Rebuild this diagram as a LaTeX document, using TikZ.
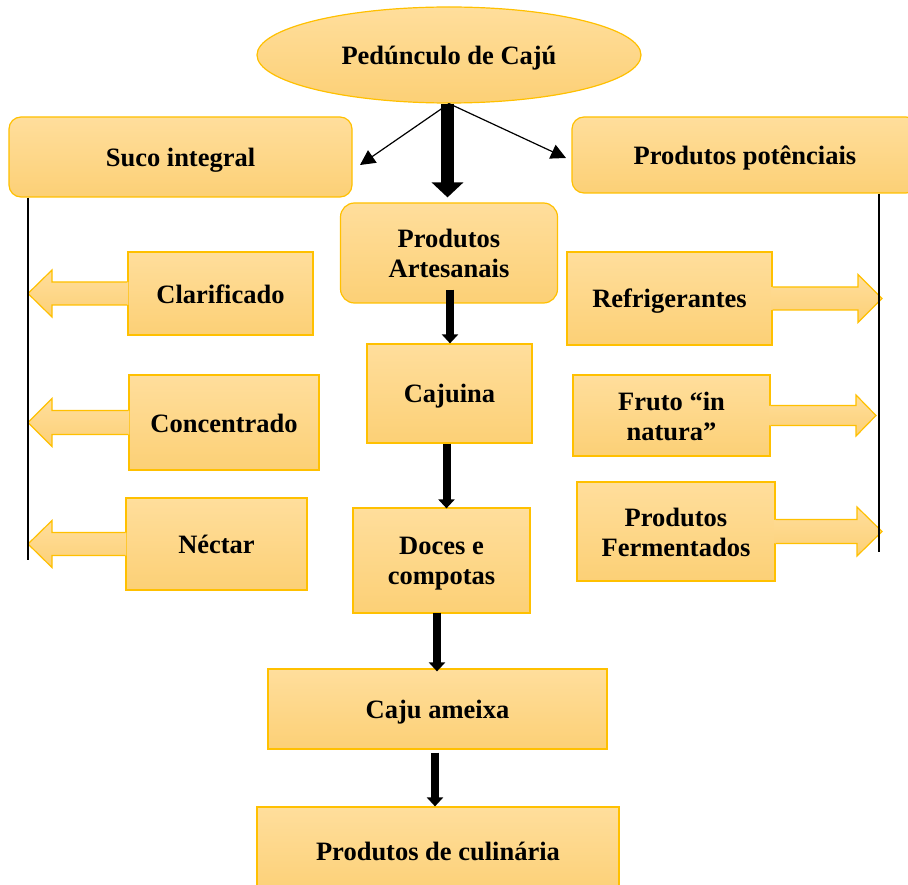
\documentclass[tikz,border=0pt]{standalone}
\usepackage{fontspec}
\setmainfont{Liberation Serif}
\usetikzlibrary{arrows.meta,calc,shapes.geometric}
\definecolor{boxtop}{RGB}{255,222,156}
\definecolor{boxbot}{RGB}{252,208,118}
\definecolor{boxline}{RGB}{255,192,0}
\newcommand\mystrut{\rule[-0.2em]{0pt}{1.12em}}
\tikzset{
  box/.style={rectangle, draw=boxline, line width=1.2pt, top color=boxtop, bottom color=boxbot,
    inner sep=0pt, align=center, font=\fontsize{26.5}{30}\selectfont\bfseries},
  rbox/.style={box, rounded corners=12pt},
  ellbox/.style={box, ellipse},
  blockshade/.style={top color=boxtop, bottom color=boxbot},
  blockline/.style={draw=boxline, line width=1.2pt, line join=miter},
  thinarrow/.style={line width=1.2pt, -{Triangle[length=15pt,width=15pt]}},
  bigarrow/.style={line width=13pt, -{Triangle[length=15pt,width=31pt]}},
  midarrow/.style={line width=8pt, -{Triangle[length=9pt,width=16pt]}},
  vline/.style={line width=1.3pt, black}
}
% left block arrow: #1 node, #2 tip x, #3 back x, #4 head half height, #5 shaft half height
\newcommand\larrow[5]{%
  \shade[blockshade] let \p1=(#1.west) in (\x1+1pt,\y1+#5pt) -- (#3pt,\y1+#5pt) -- (#3pt,\y1+#4pt) -- (#2pt,\y1) -- (#3pt,\y1-#4pt) -- (#3pt,\y1-#5pt) -- (\x1+1pt,\y1-#5pt) -- cycle;
  \draw[blockline] let \p1=(#1.west) in (\x1,\y1+#5pt) -- (#3pt,\y1+#5pt) -- (#3pt,\y1+#4pt) -- (#2pt,\y1) -- (#3pt,\y1-#4pt) -- (#3pt,\y1-#5pt) -- (\x1,\y1-#5pt);
}
\newcommand\rarrow[5]{%
  \shade[blockshade] let \p1=(#1.east) in (\x1-1pt,\y1+#5pt) -- (#3pt,\y1+#5pt) -- (#3pt,\y1+#4pt) -- (#2pt,\y1) -- (#3pt,\y1-#4pt) -- (#3pt,\y1-#5pt) -- (\x1-1pt,\y1-#5pt) -- cycle;
  \draw[blockline] let \p1=(#1.east) in (\x1,\y1+#5pt) -- (#3pt,\y1+#5pt) -- (#3pt,\y1+#4pt) -- (#2pt,\y1) -- (#3pt,\y1-#4pt) -- (#3pt,\y1-#5pt) -- (\x1,\y1-#5pt);
}
\begin{document}
\begin{tikzpicture}[x=1pt,y=-1pt]
\useasboundingbox (0,0) rectangle (908,885);
\clip (0,0) rectangle (908,885);
\fill[white] (0,0) rectangle (908,885);

% top ellipse
\node[ellbox, minimum width=384pt, minimum height=96pt] (ped) at (449,55) {\mystrut Pedúnculo de Cajú};

% rounded boxes
\node[rbox, minimum width=343pt, minimum height=80pt] (suco) at (180.5,157) {\mystrut Suco integral};
\node[rbox, minimum width=346pt, minimum height=76pt] (pot) at (745,155) {\mystrut Produtos potênciais};
\node[rbox, minimum width=217pt, minimum height=100pt, rounded corners=14pt] (art) at (449,253) {\mystrut Produtos\\\mystrut Artesanais};

% left column
\node[box, minimum width=185pt, minimum height=83pt] (clar) at (220.5,293.5) {\mystrut Clarificado};
\node[box, minimum width=190pt, minimum height=95pt] (conc) at (224,422.5) {\mystrut Concentrado};
\node[box, minimum width=181pt, minimum height=92pt] (nect) at (216.5,544) {\mystrut Néctar};

% right column
\node[box, minimum width=205pt, minimum height=93pt] (refr) at (669.5,298.5) {\mystrut Refrigerantes};
\node[box, minimum width=197pt, minimum height=81pt] (fruto) at (671.5,415.5) {\mystrut Fruto “in\\\mystrut natura”};
\node[box, minimum width=198pt, minimum height=99pt] (ferm) at (676,531.5) {\mystrut Produtos\\\mystrut Fermentados};

% middle column
\node[box, minimum width=165pt, minimum height=99pt] (caj) at (449.5,393.5) {\mystrut Cajuina};
\node[box, minimum width=177pt, minimum height=105pt] (doces) at (441.5,560.5) {\mystrut Doces e\\\mystrut compotas};
\node[box, minimum width=339pt, minimum height=80pt] (ame) at (437.5,709) {\mystrut Caju ameixa};
\node[box, minimum width=362pt, minimum height=88pt] (cul) at (438,851) {\mystrut Produtos de culinária};

% block arrows
\larrow{clar}{28}{52}{23.5}{11.5}
\larrow{conc}{28}{52}{24}{12}
\larrow{nect}{28}{52}{23.5}{11.5}
\rarrow{refr}{882}{858}{24}{11.5}
\rarrow{fruto}{876}{856}{20.5}{10}
\rarrow{ferm}{882}{857}{24.5}{12}

% arrows from the ellipse
\coordinate (tl) at (360,165);
\coordinate (tr) at (566,158);
\draw[thinarrow] (ped.south) -- (tl);
\draw[thinarrow] (ped.south) -- (tr);
\draw[bigarrow] ([xshift=-1.5pt]ped.south) -- ([xshift=-1.5pt,yshift=5pt]art.north);

% middle chain
\draw[midarrow] ([xshift=1pt,yshift=14pt]art.south) -- ([xshift=0.5pt]caj.north);
\draw[midarrow] ([xshift=-3pt]caj.south) -- ([xshift=5pt,yshift=-1pt]doces.north);
\draw[midarrow] ([xshift=-4.5pt,yshift=1pt]doces.south) -- ([xshift=-0.5pt,yshift=-3pt]ame.north);
\draw[midarrow] ([xshift=-2.5pt,yshift=-3pt]ame.south) -- ([xshift=-3pt]cul.north);

% vertical lines
\coordinate (lb) at (28,560);
\coordinate (rb) at (879,552);
\draw[vline] (lb |- suco.south) -- (lb);
\draw[vline] (rb |- pot.south) -- (rb);
\end{tikzpicture}
\end{document}
